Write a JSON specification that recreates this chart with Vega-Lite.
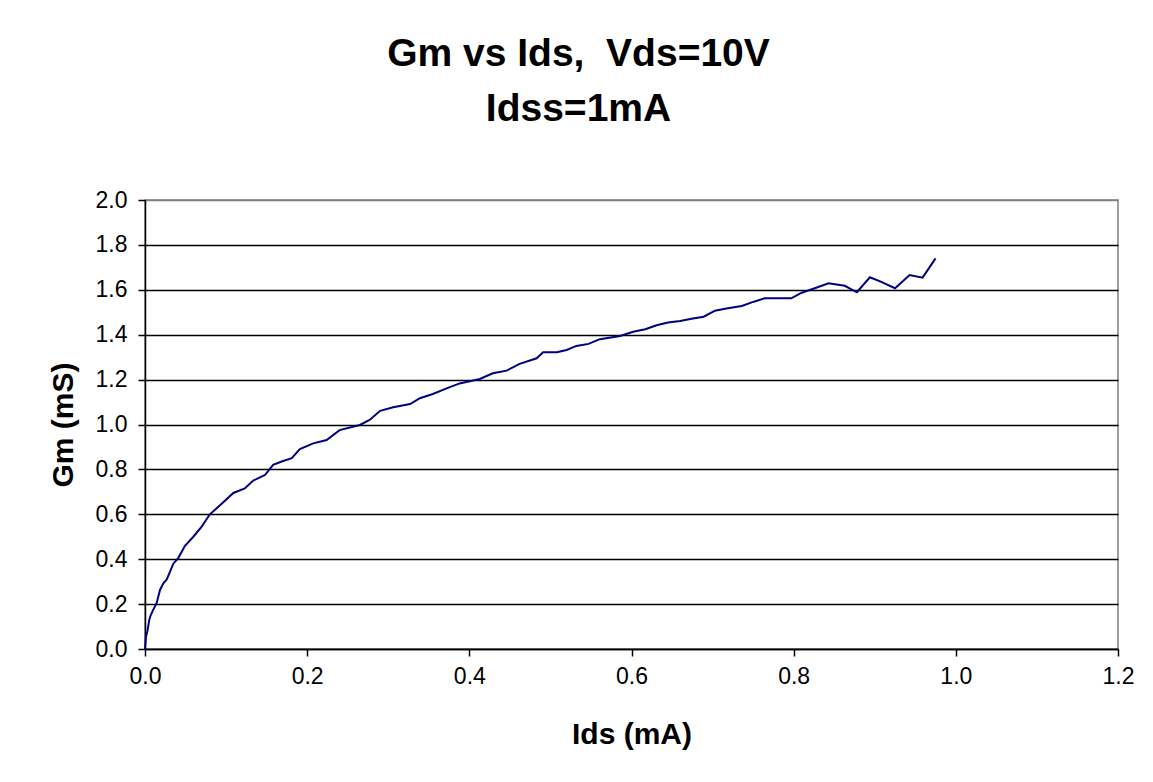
{
  "$schema": "https://vega.github.io/schema/vega-lite/v6.json",
  "autosize": "none",
  "width": 973,
  "height": 449,
  "padding": {"left": 145, "top": 200, "right": 35, "bottom": 133},
  "background": "white",
  "title": {
    "text": ["Gm vs Ids, \u00a0Vds=10V", "Idss=1mA"],
    "font": "Liberation Sans",
    "fontSize": 39,
    "fontWeight": "bold",
    "color": "black",
    "lineHeight": 55,
    "anchor": "middle",
    "dx": -53,
    "offset": 60
  },
  "config": {
    "view": {"stroke": "#808080", "strokeWidth": 1.5},
    "axis": {
      "labelFont": "Liberation Sans",
      "labelFontSize": 23,
      "labelColor": "black",
      "labelFlush": false,
      "titleFont": "Liberation Sans",
      "titleFontSize": 30,
      "titleFontWeight": "bold",
      "titleColor": "black",
      "domainColor": "black",
      "domainWidth": 1.5,
      "tickColor": "black",
      "tickWidth": 1.5,
      "tickSize": 7
    }
  },
  "data": {
    "values": [
      {"ids": 0, "gm": 0},
      {"ids": 0.0012, "gm": 0.055},
      {"ids": 0.0028, "gm": 0.077},
      {"ids": 0.0053, "gm": 0.13},
      {"ids": 0.007, "gm": 0.15},
      {"ids": 0.0095, "gm": 0.17},
      {"ids": 0.0144, "gm": 0.205},
      {"ids": 0.0185, "gm": 0.263},
      {"ids": 0.0226, "gm": 0.293},
      {"ids": 0.0268, "gm": 0.31},
      {"ids": 0.0308, "gm": 0.344},
      {"ids": 0.0349, "gm": 0.38},
      {"ids": 0.041, "gm": 0.405},
      {"ids": 0.0493, "gm": 0.46},
      {"ids": 0.0596, "gm": 0.5},
      {"ids": 0.0699, "gm": 0.545},
      {"ids": 0.08, "gm": 0.6},
      {"ids": 0.0925, "gm": 0.64},
      {"ids": 0.109, "gm": 0.695},
      {"ids": 0.123, "gm": 0.715},
      {"ids": 0.1335, "gm": 0.75},
      {"ids": 0.148, "gm": 0.775},
      {"ids": 0.158, "gm": 0.82},
      {"ids": 0.1686, "gm": 0.835},
      {"ids": 0.181, "gm": 0.85},
      {"ids": 0.191, "gm": 0.89},
      {"ids": 0.2075, "gm": 0.916},
      {"ids": 0.224, "gm": 0.931},
      {"ids": 0.24, "gm": 0.975},
      {"ids": 0.265, "gm": 0.998},
      {"ids": 0.277, "gm": 1.02},
      {"ids": 0.29, "gm": 1.061},
      {"ids": 0.306, "gm": 1.077},
      {"ids": 0.327, "gm": 1.091},
      {"ids": 0.339, "gm": 1.117},
      {"ids": 0.355, "gm": 1.136},
      {"ids": 0.372, "gm": 1.161},
      {"ids": 0.388, "gm": 1.183},
      {"ids": 0.413, "gm": 1.203},
      {"ids": 0.429, "gm": 1.228},
      {"ids": 0.446, "gm": 1.24},
      {"ids": 0.462, "gm": 1.27},
      {"ids": 0.483, "gm": 1.295},
      {"ids": 0.491, "gm": 1.322},
      {"ids": 0.508, "gm": 1.322},
      {"ids": 0.52, "gm": 1.332},
      {"ids": 0.532, "gm": 1.35},
      {"ids": 0.547, "gm": 1.359},
      {"ids": 0.561, "gm": 1.38},
      {"ids": 0.586, "gm": 1.394},
      {"ids": 0.602, "gm": 1.413},
      {"ids": 0.617, "gm": 1.424},
      {"ids": 0.631, "gm": 1.442},
      {"ids": 0.645, "gm": 1.454},
      {"ids": 0.66, "gm": 1.461},
      {"ids": 0.674, "gm": 1.471},
      {"ids": 0.689, "gm": 1.48},
      {"ids": 0.703, "gm": 1.507},
      {"ids": 0.717, "gm": 1.517},
      {"ids": 0.736, "gm": 1.528},
      {"ids": 0.75, "gm": 1.546},
      {"ids": 0.764, "gm": 1.562},
      {"ids": 0.797, "gm": 1.562},
      {"ids": 0.81, "gm": 1.587},
      {"ids": 0.826, "gm": 1.607},
      {"ids": 0.843, "gm": 1.629},
      {"ids": 0.863, "gm": 1.618},
      {"ids": 0.878, "gm": 1.589},
      {"ids": 0.894, "gm": 1.656},
      {"ids": 0.908, "gm": 1.635},
      {"ids": 0.925, "gm": 1.607},
      {"ids": 0.943, "gm": 1.666},
      {"ids": 0.959, "gm": 1.654},
      {"ids": 0.975, "gm": 1.74}
    ]
  },
  "mark": {"type": "line", "color": "#000080", "strokeWidth": 2},
  "encoding": {
    "x": {
      "field": "ids",
      "type": "quantitative",
      "scale": {"domain": [0, 1.2], "nice": false, "zero": false},
      "axis": {
        "title": "Ids (mA)",
        "values": [0, 0.2, 0.4, 0.6, 0.8, 1.0, 1.2],
        "format": ".1f",
        "grid": false,
        "labelPadding": 9,
        "titleY": 94,
        "titleBaseline": "alphabetic"
      }
    },
    "y": {
      "field": "gm",
      "type": "quantitative",
      "scale": {"domain": [0, 2], "nice": false},
      "axis": {
        "title": "Gm (mS)",
        "values": [0, 0.2, 0.4, 0.6, 0.8, 1.0, 1.2, 1.4, 1.6, 1.8, 2.0],
        "format": ".1f",
        "grid": true,
        "gridColor": {"condition": {"test": "datum.value >= 2", "value": "#808080"}, "value": "black"},
        "gridWidth": 1.5,
        "labelPadding": 11,
        "titleX": -73,
        "titleBaseline": "alphabetic"
      }
    }
  }
}
